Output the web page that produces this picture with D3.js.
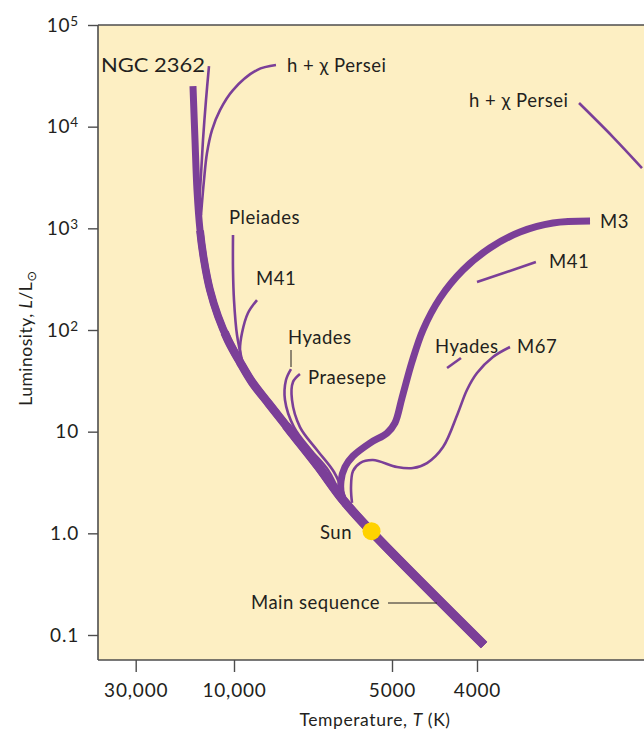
<!DOCTYPE html>
<html><head><meta charset="utf-8">
<script src="https://cdn.jsdelivr.net/npm/d3@7"></script>
<style>
body{margin:0;background:#fff}
svg{display:block}
text{font-family:Lato,"Open Sans",sans-serif;fill:#231f20}
</style>
</head><body>
<svg id="c" width="644" height="730"></svg>
<script>
// ---------- data (temperature K, luminosity L/Lsun) ----------
const tempTicks = [30000, 10000, 5000, 4000];
const tempTickLabels = ["30,000", "10,000", "5000", "4000"];
const lumTicks = [0.1, 1, 10, 100, 1000, 10000, 100000];
const lumTickBase = ["0.1", "1.0", "10", "10", "10", "10", "10"];
const lumTickExp  = ["", "", "", "2", "3", "4", "5"];

const mainSequence = [[3927,0.0797],[5483,1.05],[6200,2.13],[6918,4.59],[7754,9.69],[8576,18.7],[9241,30.8],[9740,48.4],[10694,79.7],[11958,137],[13078,247],[13985,488],[14624,962],[15123,2380],[15464,7385],[15816,25080]];
const ngc2362 = [[13225,39480],[13676,18270],[14143,7385],[14462,3343],[14789,1695]];
const hChiPerseiMS = [[8318,40380],[9040,36060],[10112,22920],[11694,14570],[12790,9262],[13524,5502],[13985,2985],[14462,1351]];
const hChiPerseiGiant = [[3060,17080],[2799,7906],[2594,3918]];
const pleiades = [[10112,859],[10112,389],[10000,197],[9869,89.2],[9655,50.6]];
const m41MS = [[9040,197],[9405,146.9],[9655,93.3],[9740,63.5],[9613,43.2]];
const m41Giant = [[4000,296],[3427,466]];
const hyadesMS = [[7788,41.3],[7961,32.2],[7996,20.5],[7686,11.1],[7135,6.60],[6621,4.19],[6282,2.44]];
const hyadesGiant = [[4327,42.3],[4172,53.0]];
const praesepe = [[7487,36.9],[7720,30.8],[7754,20.5],[7487,11.1],[6949,6.60],[6449,4.01],[6146,2.28]];
const m67 = [[3668,68.0],[3836,54.2],[4000,37.7],[4107,25.7],[4205,15.3],[4373,7.06],[4561,4.91],[4732,4.39],[4935,4.49],[5436,5.26],[5754,4.91],[5933,4.10],[5985,2.85],[5959,1.99]];
const m3 = [[2973,1179],[3277,1127],[3573,919],[3867,640],[4150,389],[4408,206],[4610,99.9],[4745,48.4],[4871,21.4],[4961,12.2],[5110,9.69],[5508,7.73],[5933,5.76],[6146,4.49],[6254,3.27],[6227,2.28],[6119,1.90]];
const sun = [5470, 1.05];

// ---------- layout ----------
const svg = d3.select("#c");
const pL = 98, pT = 25, pR = 644, pB = 660;
const x = d3.scaleLog().domain(tempTicks).range([135.7, 234, 392, 477]);
const y = d3.scaleLog().domain([0.1, 100000]).range([635, 25]);

const purple = "#7b3f98";
svg.append("rect").attr("x", pL).attr("y", pT).attr("width", pR - pL).attr("height", pB - pT).attr("fill", "#fdefc3");

svg.append("clipPath").attr("id", "clip").append("rect")
  .attr("x", pL).attr("y", pT).attr("width", pR - pL).attr("height", pB - pT);

const g = svg.append("g").attr("clip-path", "url(#clip)");
const line = d3.line().x(d => x(d[0])).y(d => y(d[1])).curve(d3.curveCatmullRom.alpha(0.5));

const thin = [ngc2362, hChiPerseiMS, hChiPerseiGiant, pleiades, m41MS, m41Giant, hyadesMS, hyadesGiant, praesepe, m67];
thin.forEach(s => g.append("path").attr("d", line(s)).attr("fill", "none").attr("stroke", purple).attr("stroke-width", 2.6));
g.append("path").attr("d", line(m3)).attr("fill", "none").attr("stroke", purple).attr("stroke-width", 7);

// main sequence: tapered by overlaying the same path with dashes (thicker toward the bottom)
const msPath = g.append("path").attr("d", line(mainSequence)).attr("fill", "none").attr("stroke", purple).attr("stroke-width", 7);
const msLen = msPath.node().getTotalLength();
[[0.78, 7.8], [0.62, 8.6], [0.45, 9.2]].forEach(([frac, w]) => {
  g.append("path").attr("d", line(mainSequence)).attr("fill", "none").attr("stroke", purple)
    .attr("stroke-width", w).attr("stroke-dasharray", `${msLen * frac} ${msLen * 2}`);
});

g.append("circle").attr("cx", x(sun[0])).attr("cy", y(sun[1])).attr("r", 9).attr("fill", "#ffd200");

// ---------- axes ----------
const axisColor = "#4d4d4d";
const xAxis = svg.append("g").attr("transform", `translate(0,${pB})`)
  .call(d3.axisBottom(x).tickValues(tempTicks).tickFormat((d, i) => tempTickLabels[i]).tickSize(12).tickPadding(12));
xAxis.select(".domain").remove();
const yAxis = svg.append("g").attr("transform", `translate(${pL},0)`)
  .call(d3.axisLeft(y).tickValues(lumTicks).tickFormat(() => "").tickSize(10).tickPadding(9));
yAxis.select(".domain").remove();
[xAxis, yAxis].forEach(a => {
  a.selectAll("line").attr("stroke", axisColor).attr("stroke-width", 1.4);
  a.selectAll("text").style("font-size", "19px").style("letter-spacing", "0.8px").attr("fill", "#231f20");
});
yAxis.selectAll(".tick text").each(function(d, i) {
  const t = d3.select(this);
  t.text(null);
  t.append("tspan").text(lumTickBase[i]);
  if (lumTickExp[i]) t.append("tspan").attr("dy", "-0.45em").style("font-size", "13.5px").text(lumTickExp[i]);
});
// frame lines
svg.append("line").attr("x1", pL).attr("x2", pL).attr("y1", pT).attr("y2", pB).attr("stroke", axisColor).attr("stroke-width", 1.6);
svg.append("line").attr("x1", pL).attr("x2", pR).attr("y1", pB).attr("y2", pB).attr("stroke", axisColor).attr("stroke-width", 1.6);
svg.append("line").attr("x1", pL).attr("x2", pR).attr("y1", pT).attr("y2", pT).attr("stroke", axisColor).attr("stroke-width", 1.6);

// axis titles
const xt = svg.append("text").attr("x", 375).attr("y", 726).attr("text-anchor", "middle").style("font-size", "17.5px").style("letter-spacing", "0.6px");
xt.append("tspan").text("Temperature, ");
xt.append("tspan").style("font-style", "italic").text("T");
xt.append("tspan").text(" (K)");
const yt = svg.append("text").attr("transform", "translate(32,338) rotate(-90)").attr("text-anchor", "middle").style("font-size", "17.5px").style("letter-spacing", "0.5px");
yt.append("tspan").text("Luminosity, ");
yt.append("tspan").style("font-style", "italic").text("L");
yt.append("tspan").text("/L");
yt.append("tspan").attr("dy", "4").style("font-size", "13px").style("font-family", "DejaVu Sans").text("\u2299");

// ---------- labels ----------
const labels = [
  ["NGC 2362", 101, 72, "start", 104], ["h + \u03C7 Persei", 287, 72, "start", 0], ["h + \u03C7 Persei", 469, 107, "start", 0],
  ["Pleiades", 229, 224, "start", 0], ["M41", 256, 285, "start", 0], ["Hyades", 288, 344, "start", 0],
  ["Praesepe", 308, 384, "start", 0], ["Hyades", 435, 353, "start", 0], ["M67", 517, 353, "start", 0],
  ["M3", 600, 228, "start", 0], ["M41", 549, 268, "start", 0], ["Sun", 352, 539, "end", 0], ["Main sequence", 251, 609, "start", 0]
];
labels.forEach(([t, lx, ly, a, len]) => {
  const el = svg.append("text").attr("x", lx).attr("y", ly).attr("text-anchor", a)
    .style("font-size", "18.5px").style("letter-spacing", "0.5px").text(t);
  if (len) el.style("letter-spacing", "0px").attr("textLength", len).attr("lengthAdjust", "spacingAndGlyphs");
});
// leaders
svg.append("line").attr("x1", 291).attr("x2", 291).attr("y1", 350).attr("y2", 367).attr("stroke", "#231f20").attr("stroke-width", 1);
svg.append("line").attr("x1", 388).attr("x2", 437).attr("y1", 603).attr("y2", 603).attr("stroke", "#231f20").attr("stroke-width", 1);
</script>
</body></html>
